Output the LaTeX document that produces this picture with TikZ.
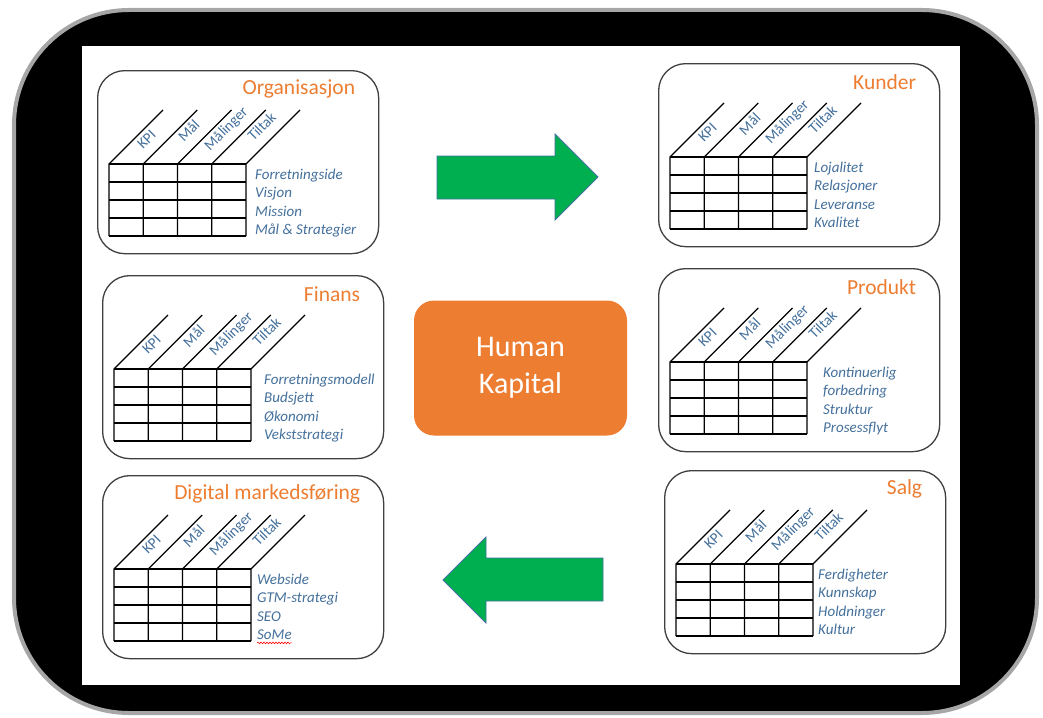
\documentclass[tikz,border=0pt]{standalone}
\usepackage{fontspec}
\setmainfont{Carlito}
\usetikzlibrary{positioning,decorations.pathmorphing}
\definecolor{kporange}{HTML}{ED7D31}
\definecolor{kpblue}{HTML}{44709C}
\definecolor{kpgreen}{HTML}{00B050}
\definecolor{kpedge}{HTML}{41719C}
\definecolor{kpframe}{HTML}{A6A6A6}
\tikzset{
  panel/.style={draw=black!75, line width=1.3pt, rounded corners=27pt,
    minimum width=281pt, minimum height=183pt, inner sep=0pt, anchor=north west},
  paneltitle/.style={anchor=east, inner sep=0pt, text=kporange,
    font=\fontsize{21.5}{23}\selectfont},
  colhead/.style={anchor=base west, rotate=45, inner sep=0pt, text=kpblue,
    font=\fontsize{15}{16}\selectfont},
  rowlabel/.style={anchor=base west, inner sep=0pt, text=kpblue,
    font=\fontsize{15}{16}\selectfont\itshape},
  gridline/.style={line width=1.3pt},
  greenarrow/.style={fill=kpgreen, draw=kpedge, line width=0.9pt, line join=miter},
  hkbox/.style={fill=kporange, rounded corners=20pt, minimum width=213pt,
    minimum height=135pt, align=center, text=white,
    font=\fontsize{30}{37}\selectfont},
}
% #1 name, #2 #3 top left, #4 title, #5 gap before the row labels, #6-#9 row labels
\newcommand{\kpipanel}[9]{%
  \node[panel] (#1) at (#2,#3) {};
  \node[paneltitle] (#1title) at ([xshift=-24pt,yshift=-19pt]#1.north east) {#4};
  \coordinate (#1tab) at ([xshift=12pt,yshift=-94pt]#1.north west);
  \begin{scope}[shift={(#1tab)}]
    \foreach \r in {0,...,4}
      \draw[gridline] (0,\r*18) -- (137,\r*18);
    \foreach \c in {0,...,4}
      \draw[gridline] (\c*34.25,72) -- (\c*34.25,0) -- ++(54,-54);
    \foreach \h/\a [count=\c from 0] in {KPI/34,Mål/43.5,Målinger/32,Tiltak/45}
      \node[colhead] (#1h\c) at ({\c*34.25+(\a+14)*0.7071},{(14-\a)*0.7071}) {\h};
    \node[rowlabel] (#1r1) at (137+#5,15.5) {#6};
    \node[rowlabel] (#1r2) at (137+#5,33.8) {#7};
    \node[rowlabel] (#1r3) at (137+#5,52.1) {#8};
    \node[rowlabel] (#1r4) at (137+#5,70.4) {#9};
  \end{scope}
}

\begin{document}
\begin{tikzpicture}[x=1pt,y=-1pt]
  \useasboundingbox (0,0) rectangle (1043,717);
  \draw[kpframe, line width=4pt, fill=black, rounded corners=115pt] (14,10) rectangle (1037,713);
  \fill[white] (82,46) rectangle (960,685);

  \kpipanel{org}{97}{70}{Organisasjon}{9}{Forretningside}{Visjon}{Mission}{Mål \& Strategier}
  \kpipanel{kunder}{658}{63}{Kunder}{7}{Lojalitet}{Relasjoner}{Leveranse}{Kvalitet}
  \kpipanel{finans}{102}{275}{Finans}{13}{Forretningsmodell}{Budsjett}{Økonomi}{Vekststrategi}
  \kpipanel{produkt}{658}{268}{Produkt}{16}{Kontinuerlig}{forbedring}{Struktur}{Prosessflyt}
  \kpipanel{digital}{102}{475}{Digital markedsføring}{6}{Webside}{GTM-strategi}{SEO}{SoMe}
  \kpipanel{salg}{664}{470}{Salg}{5}{Ferdigheter}{Kunnskap}{Holdninger}{Kultur}

  \draw[red, line width=0.6pt, decorate, decoration={snake, amplitude=0.8pt, segment length=3pt}]
    ([yshift=-3.5pt]digitalr4.base west) -- ([yshift=-3.5pt]digitalr4.base east);

  \node[hkbox] (hk) at (520.5,368) {Human\\Kapital};

  \draw[greenarrow] (437,156) -- (555,156) -- (555,134) -- (598,177)
    -- (555,220) -- (555,199) -- (437,199) -- cycle;
  \draw[greenarrow] (603,558) -- (486,558) -- (486,537) -- (443,580)
    -- (486,623) -- (486,601) -- (603,601) -- cycle;
\end{tikzpicture}
\end{document}
